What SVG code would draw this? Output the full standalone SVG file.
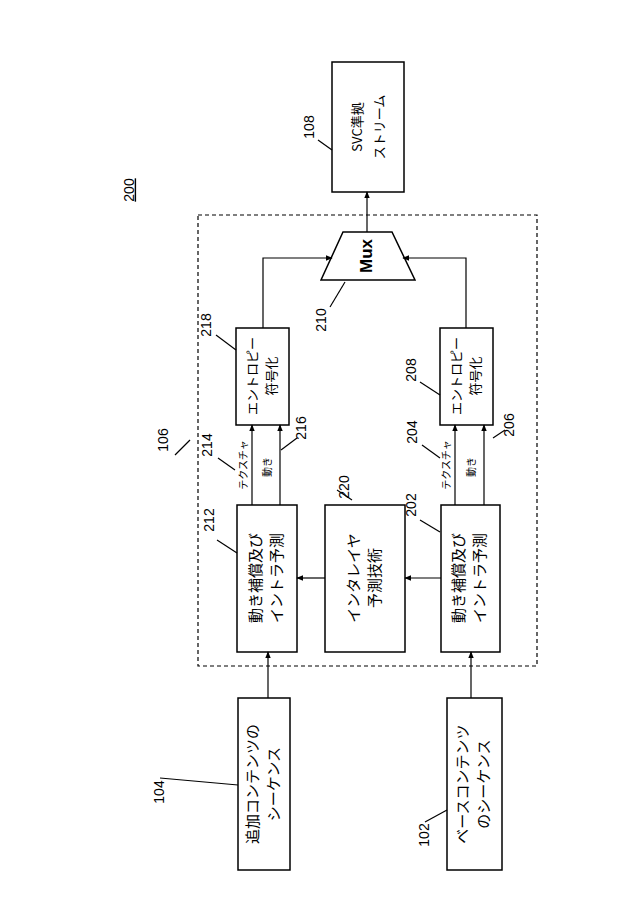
<svg xmlns="http://www.w3.org/2000/svg" width="622" height="906" viewBox="0 0 622 906">
<style>
.b{fill:#fff;stroke:#000;stroke-width:1.5}
.t{font-family:"Noto Sans CJK JP","Liberation Sans",sans-serif;font-size:13px;text-anchor:middle;dominant-baseline:middle}
.s{font-family:"Noto Sans CJK JP","Liberation Sans",sans-serif;font-size:10px;text-anchor:middle;dominant-baseline:middle}
.n{font-family:"Liberation Sans",sans-serif;font-size:14px;text-anchor:middle;dominant-baseline:middle}
.l{fill:none;stroke:#000;stroke-width:1.2}
</style>
<defs><marker id="a" viewBox="0 0 10 10" refX="9" refY="5" markerWidth="6" markerHeight="6" orient="auto"><path d="M0,1 L10,5 L0,9 z"/></marker></defs>
<rect x="198" y="215" width="339" height="451" fill="none" stroke="#000" stroke-width="1.2" stroke-dasharray="4,3"/>
<g id="n108"><rect class="b" x="332" y="62" width="72" height="130"/><text class="t" transform="rotate(-90 368 127)" x="368" y="127"><tspan x="368" dy="-10">SVC準拠</tspan><tspan x="368" dy="22">ストリーム</tspan></text></g>
<g id="n210"><polygon class="b" points="343,232 392,232 415,280 321,280"/><text class="n" style="font-size:17px;font-weight:bold" transform="rotate(-90 368 256)" x="368" y="256">Mux</text></g>
<g id="n218"><rect class="b" x="236" y="328" width="53" height="97"/><text class="t" transform="rotate(-90 262 376)" x="262" y="376"><tspan x="262" dy="-9">エントロピー</tspan><tspan x="262" dy="19">符号化</tspan></text></g>
<g id="n208"><rect class="b" x="440" y="328" width="53" height="97"/><text class="t" transform="rotate(-90 466 376)" x="466" y="376"><tspan x="466" dy="-9">エントロピー</tspan><tspan x="466" dy="19">符号化</tspan></text></g>
<g id="n212"><rect class="b" x="237" y="505" width="60" height="147"/><text class="t" transform="rotate(-90 267 578)" x="267" y="578" style="font-size:15px"><tspan x="267" dy="-10">動き補償及び</tspan><tspan x="267" dy="21">イントラ予測</tspan></text></g>
<g id="n220"><rect class="b" x="325" y="505" width="80" height="147"/><text class="t" transform="rotate(-90 365 578)" x="365" y="578" style="font-size:15px"><tspan x="365" dy="-10">インタレイヤ</tspan><tspan x="365" dy="21">予測技術</tspan></text></g>
<g id="n202"><rect class="b" x="441" y="505" width="59" height="147"/><text class="t" transform="rotate(-90 470 578)" x="470" y="578" style="font-size:15px"><tspan x="470" dy="-10">動き補償及び</tspan><tspan x="470" dy="21">イントラ予測</tspan></text></g>
<g id="n104"><rect class="b" x="238" y="698" width="52" height="172"/><text class="t" transform="rotate(-90 264 784)" x="264" y="784" style="font-size:15px"><tspan x="264" dy="-10">追加コンテンツの</tspan><tspan x="264" dy="21">シーケンス</tspan></text></g>
<g id="n102"><rect class="b" x="447" y="698" width="55" height="172"/><text class="t" transform="rotate(-90 474 784)" x="474" y="784" style="font-size:15px"><tspan x="474" dy="-10">ベースコンテンツ</tspan><tspan x="474" dy="21">のシーケンス</tspan></text></g>
<g id="connectors">
<path class="l" d="M367,232 V192" marker-end="url(#a)"/>
<path class="l" d="M263,328 V258 H332" marker-end="url(#a)"/>
<path class="l" d="M466,328 V258 H403" marker-end="url(#a)"/>
<path class="l" d="M252,505 V425" marker-end="url(#a)"/>
<path class="l" d="M280,505 V425" marker-end="url(#a)"/>
<path class="l" d="M455,505 V425" marker-end="url(#a)"/>
<path class="l" d="M484,505 V425" marker-end="url(#a)"/>
<path class="l" d="M325,578 H297" marker-end="url(#a)"/>
<path class="l" d="M441,578 H405" marker-end="url(#a)"/>
<path class="l" d="M268,698 V652" marker-end="url(#a)"/>
<path class="l" d="M471,698 V652" marker-end="url(#a)"/>
</g>
<g id="labels">
<text class="s" transform="rotate(-90 244 465)" x="244" y="465">テクスチャ</text>
<text class="s" transform="rotate(-90 268 467)" x="268" y="467">動き</text>
<text class="s" transform="rotate(-90 447 465)" x="447" y="465">テクスチャ</text>
<text class="s" transform="rotate(-90 472 467)" x="472" y="467">動き</text>
<g class="l">
<path d="M318,140 L332,150"/><path d="M216,335 L236,350"/><path d="M345,282 L330,307"/>
<path d="M297,438 L281,450"/><path d="M218,458 L235,470"/><path d="M420,382 L440,395"/>
<path d="M422,445 L440,458"/><path d="M493,438 L505,430"/><path d="M352,500 L337,490"/>
<path d="M217,540 L237,553"/><path d="M420,520 L440,532"/><path d="M160,778 L238,785"/>
<path d="M425,822 L447,810"/><path d="M175,455 L190,440"/>
</g>
<text class="n" transform="rotate(-90 310 127)" x="310" y="127">108</text>
<text class="n" style="text-decoration:underline" transform="rotate(-90 130 190)" x="130" y="190">200</text>
<text class="n" transform="rotate(-90 164 440)" x="164" y="440">106</text>
<text class="n" transform="rotate(-90 207 325)" x="207" y="325">218</text>
<text class="n" transform="rotate(-90 322 320)" x="322" y="320">210</text>
<text class="n" transform="rotate(-90 302 428)" x="302" y="428">216</text>
<text class="n" transform="rotate(-90 208 445)" x="208" y="445">214</text>
<text class="n" transform="rotate(-90 412 370)" x="412" y="370">208</text>
<text class="n" transform="rotate(-90 413 432)" x="413" y="432">204</text>
<text class="n" transform="rotate(-90 510 425)" x="510" y="425">206</text>
<text class="n" transform="rotate(-90 345 487)" x="345" y="487">220</text>
<text class="n" transform="rotate(-90 210 520)" x="210" y="520">212</text>
<text class="n" transform="rotate(-90 412 505)" x="412" y="505">202</text>
<text class="n" transform="rotate(-90 160 792)" x="160" y="792">104</text>
<text class="n" transform="rotate(-90 425 835)" x="425" y="835">102</text>
</g>
</svg>
